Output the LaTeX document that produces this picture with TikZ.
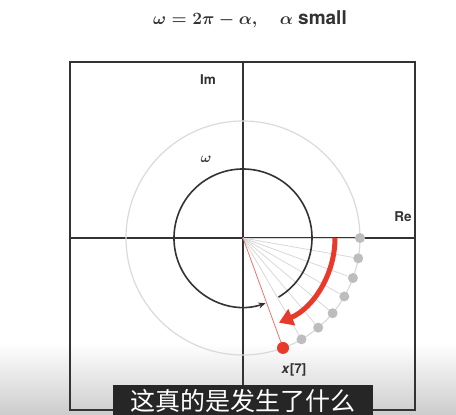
\documentclass[tikz,border=0pt]{standalone}
\usepackage{amsmath}
\usepackage{fontspec}
\setmainfont{TeX Gyre Heros}
\newfontfamily\cjk{Noto Sans CJK SC}
\usetikzlibrary{arrows.meta}
\definecolor{axisgray}{HTML}{333333}
\definecolor{ringgray}{HTML}{DADADA}
\definecolor{dotgray}{HTML}{BDBDBD}
\definecolor{spokegray}{HTML}{D8D8D8}
\definecolor{alphared}{HTML}{E8392A}

\begin{document}
\begin{tikzpicture}[x=1pt,y=1pt,
  dot/.style={circle,fill=dotgray,inner sep=0pt,minimum size=10pt},
  reddot/.style={circle,fill=alphared,inner sep=0pt,minimum size=12pt},
  lbl/.style={text=axisgray,font=\bfseries\boldmath\fontsize{13.5}{16}\selectfont}]
  \useasboundingbox (-243,-177) rectangle (213,238);
  \shade[top color=white,bottom color=gray!40] (-243,-177) rectangle (213,-105);
  % frame and axes
  \draw[axisgray,line width=1.8pt] (-173,-172) rectangle (172,176);
  \coordinate (O) at (0,0);
  \draw[axisgray,line width=1.8pt] (-173,0) -- (172,0);
  \draw[axisgray,line width=1.8pt] (0,-172) -- (0,176);
  \node[lbl] (im) at (-35,158) {Im};
  \node[lbl] (re) at (160,21) {Re};
  % unit circle and samples
  \draw[ringgray,line width=1.2pt] (O) circle (117);
  \foreach \i in {0,...,6}
    \node[dot] (p\i) at ({-10*\i}:117) {};
  \node[reddot] (p7) at (-70:117) {};
  \foreach \i in {0,...,6}
    \draw[spokegray,line width=0.8pt] (O) -- (p\i);
  \draw[alphared!70,line width=0.8pt] (O) -- (p7);
  \node[lbl] (x7) at (51,-132) {\textit{x}[7]};
  % omega turn
  \draw[axisgray,line width=1.6pt,-{Stealth[length=7pt,width=6pt]}]
    (-59:69) arc[start angle=-59,end angle=289,radius=69];
  \node[lbl] (w) at (-37,79) {$\omega$};
  % apparent step
  \draw[alphared,line width=5pt,-{Triangle[length=14pt,width=17pt]}]
    (0:92) arc[start angle=0,end angle=-67,radius=92];
  % title
  \node[text=axisgray,font=\bfseries\boldmath\fontsize{19}{22}\selectfont] (title) at (7,219)
    {$\omega = 2\pi - \alpha,\quad \alpha$ small};
  % subtitle
  \fill[black!85] (-130,-147) rectangle (130,-177);
  \node[text=white,font=\cjk\fontsize{25}{27}\selectfont] (sub) at (0,-163)
    {这真的是发生了什么};
\end{tikzpicture}
\end{document}
